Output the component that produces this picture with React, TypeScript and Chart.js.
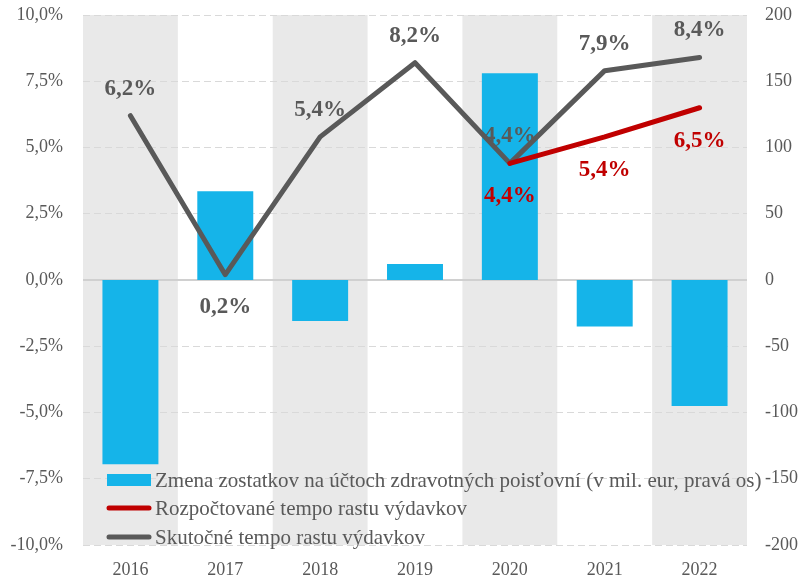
import React, { useEffect, useRef } from 'react';
import { Chart, registerables } from 'chart.js';

Chart.register(...registerables);

const categories = ['2016', '2017', '2018', '2019', '2020', '2021', '2022'];
const balanceChange = [-139, 67, -31, 12, 156, -35, -95];
const actualGrowth = [6.2, 0.2, 5.4, 8.2, 4.4, 7.9, 8.4];
const budgetGrowth: (number | null)[] = [null, null, null, null, 4.4, 5.4, 6.5];
const seriesNames = [
  'Zmena zostatkov na účtoch zdravotných poisťovní (v mil. eur, pravá os)',
  'Rozpočtované tempo rastu výdavkov',
  'Skutočné tempo rastu výdavkov',
];

const FONT = "'Liberation Serif', serif";
const TEXT = '#595959';
const BLUE = '#15b4e9';
const RED = '#c00000';
const GRAY = '#595959';

const fmtPct = (v: number) => v.toFixed(1).replace('.', ',') + '%';

const customPlugin = {
  id: 'custom',
  beforeDraw(chart: any) {
    const { ctx, chartArea, scales } = chart;
    const x = scales.x;
    const w = (chartArea.right - chartArea.left) / categories.length;
    ctx.save();
    ctx.fillStyle = '#e9e9e9';
    categories.forEach((_, i) => {
      if (i % 2 === 0) {
        const cx = x.getPixelForValue(i);
        ctx.fillRect(cx - w / 2, chartArea.top, w, chartArea.bottom - chartArea.top);
      }
    });
    ctx.restore();
  },
  afterDatasetsDraw(chart: any) {
    const { ctx, scales } = chart;
    const x = scales.x;
    const y = scales.y;
    ctx.save();
    ctx.font = `bold 23px ${FONT}`;
    ctx.textAlign = 'center';
    ctx.textBaseline = 'middle';
    ctx.fillStyle = GRAY;
    actualGrowth.forEach((v, i) => {
      const px = x.getPixelForValue(i);
      const py = y.getPixelForValue(v);
      const dy = i === 1 ? 32 : -27;
      ctx.fillText(fmtPct(v), px, py + dy);
    });
    ctx.fillStyle = RED;
    budgetGrowth.forEach((v, i) => {
      if (v === null) return;
      const px = x.getPixelForValue(i);
      const py = y.getPixelForValue(v);
      ctx.fillText(fmtPct(v), px, py + 33);
    });
    ctx.restore();
  },
  afterDraw(chart: any) {
    const { ctx } = chart;
    ctx.save();
    ctx.font = `21px ${FONT}`;
    ctx.textAlign = 'left';
    ctx.textBaseline = 'middle';
    const mx = 107;
    const mw = 44;
    const tx = 155;
    const rows = [480, 508, 537];
    ctx.fillStyle = BLUE;
    ctx.fillRect(mx, rows[0] - 6, mw, 12);
    ctx.lineCap = 'round';
    ctx.lineWidth = 5;
    ctx.strokeStyle = RED;
    ctx.beginPath();
    ctx.moveTo(mx + 2, rows[1]);
    ctx.lineTo(mx + mw - 2, rows[1]);
    ctx.stroke();
    ctx.strokeStyle = GRAY;
    ctx.beginPath();
    ctx.moveTo(mx + 2, rows[2]);
    ctx.lineTo(mx + mw - 2, rows[2]);
    ctx.stroke();
    ctx.fillStyle = TEXT;
    seriesNames.forEach((n, i) => ctx.fillText(n, tx, rows[i] + 1));
    ctx.restore();
  },
};

export default function App() {
  const ref = useRef<HTMLCanvasElement | null>(null);
  useEffect(() => {
    if (!ref.current) return;
    const chart = new Chart(ref.current, {
      type: 'bar',
      data: {
        labels: categories,
        datasets: [
          {
            type: 'line',
            label: seriesNames[2],
            data: actualGrowth,
            yAxisID: 'y',
            borderColor: GRAY,
            borderWidth: 5,
            pointRadius: 0,
            borderCapStyle: 'round',
            borderJoinStyle: 'round',
            tension: 0,
            order: 1,
          } as any,
          {
            type: 'line',
            label: seriesNames[1],
            data: budgetGrowth,
            yAxisID: 'y',
            borderColor: RED,
            borderWidth: 5,
            pointRadius: 0,
            borderCapStyle: 'round',
            borderJoinStyle: 'round',
            tension: 0,
            order: 0,
          } as any,
          {
            type: 'bar',
            label: seriesNames[0],
            data: balanceChange,
            yAxisID: 'y1',
            backgroundColor: BLUE,
            barPercentage: 0.59,
            categoryPercentage: 1,
            order: 3,
          },
        ],
      },
      options: {
        responsive: false,
        animation: false,
        layout: { padding: { top: 15, left: 0, right: 0, bottom: 0 } },
        plugins: { legend: { display: false }, tooltip: { enabled: false } },
        scales: {
          x: {
            grid: { display: false, drawTicks: false },
            border: { display: false },
            ticks: { color: TEXT, font: { family: FONT, size: 18 }, padding: 14 },
            afterFit: (s: any) => {
              s.height = 33;
              s.paddingLeft = 0;
              s.paddingRight = 0;
            },
          },
          y: {
            position: 'left',
            min: -10,
            max: 10,
            ticks: {
              stepSize: 2.5,
              color: TEXT,
              font: { family: FONT, size: 18 },
              padding: 20,
              callback: (v: any) => fmtPct(Number(v)),
            },
            grid: {
              drawTicks: false,
              color: (c: any) => (c.tick && c.tick.value === 0 ? '#d0d0d0' : '#d9d9d9'),
              lineWidth: (c: any) => (c.tick && c.tick.value === 0 ? 2 : 1),
            },
            border: {
              display: false,
              dash: (c: any) => (c.tick && c.tick.value === 0 ? [] : [7, 4]),
            },
            afterFit: (s: any) => {
              s.width = 83;
              s.paddingTop = 0;
              s.paddingBottom = 0;
            },
          } as any,
          y1: {
            position: 'right',
            min: -200,
            max: 200,
            ticks: {
              stepSize: 50,
              color: TEXT,
              font: { family: FONT, size: 18 },
              padding: 18,
            },
            grid: { display: false, drawTicks: false },
            border: { display: false },
            afterFit: (s: any) => {
              s.width = 58;
              s.paddingTop = 0;
              s.paddingBottom = 0;
            },
          } as any,
        },
      },
      plugins: [customPlugin],
    });
    return () => chart.destroy();
  }, []);
  return (
    <div style={{ position: 'fixed', left: 0, top: 0, width: 805, height: 578, background: '#fff' }}>
      <canvas ref={ref} width={805} height={578} />
    </div>
  );
}
